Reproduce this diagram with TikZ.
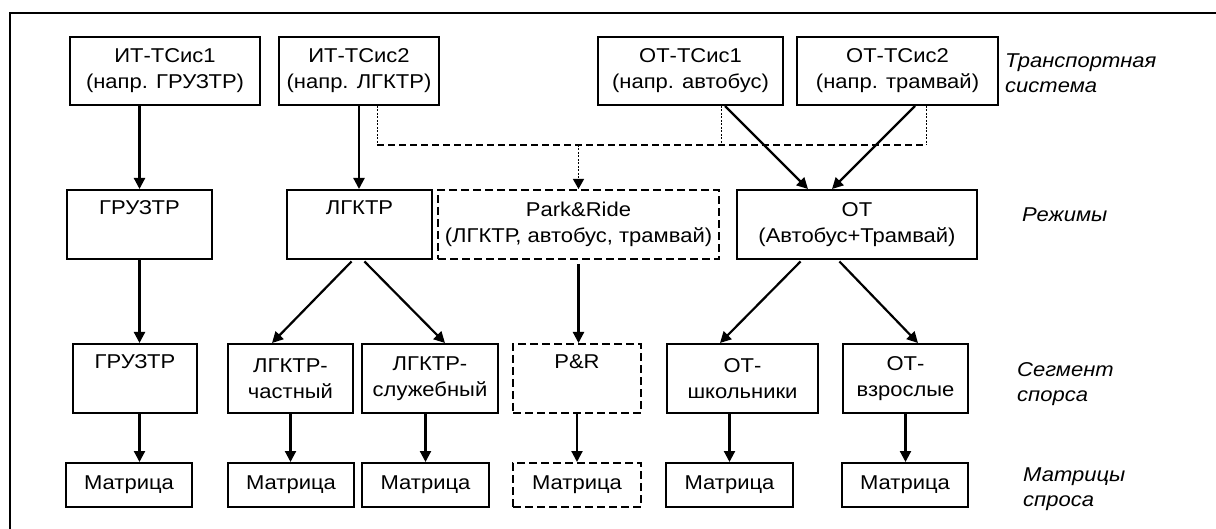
\documentclass[tikz,border=0pt]{standalone}
\usepackage{fontspec}
\setmainfont{Liberation Sans}[FakeStretch=1.1]
\usetikzlibrary{arrows.meta}
\newcommand\boxfont{\fontsize{20}{26}\selectfont}
\newcommand\labfont{\fontsize{20}{25}\selectfont\itshape}
\tikzset{
 bx/.style={draw, line width=2pt, inner sep=0pt, align=center, font=\boxfont},
 dbx/.style={bx, dash pattern=on 8pt off 4pt},
 arr/.style={line width=2.2pt, -{Triangle[length=11pt,width=11pt]}},
 darr/.style={line width=1.2pt, dash pattern=on 2pt off 1.5pt, -{Triangle[length=10pt,width=11pt]}},
 dline/.style={line width=2pt, dash pattern=on 7pt off 4pt},
 tline/.style={line width=1pt, dash pattern=on 2pt off 1.5pt},
 lab/.style={font=\labfont, inner sep=0pt, align=left},
}
\begin{document}
\begin{tikzpicture}[x=1pt,y=-1pt]
\useasboundingbox (0,0) rectangle (1216,529);
\fill[white] (0,0) rectangle (1216,529);
\draw[line width=2.5pt] (1216,13) -- (10,13) -- (10,529);
% row 1
\node[bx, minimum width=190pt, minimum height=68pt] (a1) at (165,71) {ИТ-ТСис1\\(напр. ГРУЗТР)};
\node[bx, minimum width=160pt, minimum height=68pt] (a2) at (359,71) {ИТ-ТСис2\\(напр. ЛГКТР)};
\node[bx, minimum width=185pt, minimum height=68pt] (a3) at (690.5,71) {ОТ-ТСис1\\(напр. автобус)};
\node[bx, minimum width=201pt, minimum height=68pt] (a4) at (897.5,71) {ОТ-ТСис2\\(напр. трамвай)};
% row 2
\node[bx, minimum width=145pt, minimum height=69pt] (b1) at (139.5,224.5) {ГРУЗТР\\\strut};
\node[bx, minimum width=145pt, minimum height=69pt] (b2) at (359.5,224.5) {ЛГКТР\\\strut};
\node[dbx, minimum width=281pt, minimum height=69pt] (b3) at (578.5,224.5) {Park\&Ride\\(ЛГКТР, автобус, трамвай)};
\node[bx, minimum width=240pt, minimum height=69pt] (b4) at (857,224.5) {ОТ\\(Автобус+Трамвай)};
% row 3
\node[bx, minimum width=124pt, minimum height=69pt] (c1) at (135,378.5) {ГРУЗТР\\\strut};
\node[bx, minimum width=125pt, minimum height=69pt] (c2) at (290.5,378.5) {ЛГКТР-\\частный};
\node[bx, minimum width=136pt, minimum height=69pt] (c3) at (430,378.5) {ЛГКТР-\\служебный};
\node[dbx, minimum width=128pt, minimum height=69pt] (c4) at (577,378.5) {P\&R\\\strut};
\node[bx, minimum width=151pt, minimum height=69pt] (c5) at (742.5,378.5) {ОТ-\\школьники};
\node[bx, minimum width=125pt, minimum height=69pt] (c6) at (905.5,378.5) {ОТ-\\взрослые};
% row 4
\node[bx, minimum width=126pt, minimum height=44pt] (d1) at (129,485) {Матрица};
\node[bx, minimum width=126pt, minimum height=44pt] (d2) at (291,485) {Матрица};
\node[bx, minimum width=127pt, minimum height=44pt] (d3) at (425.5,485) {Матрица};
\node[dbx, minimum width=128pt, minimum height=44pt] (d4) at (577,485) {Матрица};
\node[bx, minimum width=127pt, minimum height=44pt] (d5) at (729.5,485) {Матрица};
\node[bx, minimum width=126pt, minimum height=44pt] (d6) at (905,485) {Матрица};
% labels
\node[lab, anchor=north west] (l1) at (1005,53.5) {Транспортная\\система};
\node[lab, anchor=base west] (l2) at (1022,222) {Режимы};
\node[lab, anchor=north west] (l3) at (1017,362.5) {Сегмент\\спорса};
\node[lab, anchor=north west] (l4) at (1023,467.5) {Матрицы\\спроса};
% dashed junction
\coordinate (j1) at (377,145);
\coordinate (j2) at (926,145);
\coordinate (j3) at (721,145);
\coordinate (j4) at (j1 -| b3);
\draw[tline] ([xshift=18pt]a2.south) -- (j1);
\draw[tline] ([xshift=30.5pt]a3.south) -- (j3);
\draw[tline] ([xshift=28.5pt]a4.south) -- (j2);
\draw[dline] (j1) -- (j2);
\draw[darr] (j4) -- (b3.north);
% arrows row1 -> row2
\draw[arr] (a1.south -| b1) -- (b1.north);
\draw[arr] (a2.south) -- (a2.south |- b2.north);
\draw[arr] ([xshift=34.5pt]a3.south) -- ([xshift=-49pt]b4.north);
\draw[arr] ([xshift=17.5pt]a4.south) -- ([xshift=-25pt]b4.north);
% row2 -> row3
\draw[arr] (b1.south) -- (b1.south |- c1.north);
\draw[arr, shorten <=2pt] ([xshift=-6.5pt]b2.south) -- ([xshift=-18.5pt]c2.north);
\draw[arr, shorten <=2pt] ([xshift=3.5pt]b2.south) -- ([xshift=15pt]c3.north);
\draw[arr, shorten <=4pt] (b3.south) -- (b3.south |- c4.north);
\draw[arr, shorten <=2pt] ([xshift=-55pt]b4.south) -- ([xshift=-22.5pt]c5.north);
\draw[arr, shorten <=2pt] ([xshift=-19pt]b4.south) -- ([xshift=12.5pt]c6.north);
% row3 -> row4
\draw[arr] (c1.south -| b1) -- (d1.north -| b1);
\draw[arr] (c2.south) -- (c2.south |- d2.north);
\draw[arr] (c3.south -| d3) -- (d3.north);
\draw[arr] (c4.south) -- (d4.north);
\draw[arr] (c5.south -| d5) -- (d5.north);
\draw[arr] (c6.south) -- (c6.south |- d6.north);
\end{tikzpicture}
\end{document}
